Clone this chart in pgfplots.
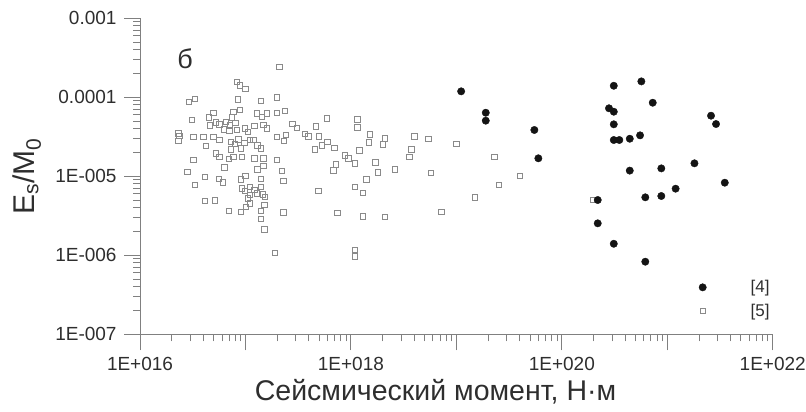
\documentclass[border=0pt]{standalone}
\usepackage{fontspec}
\setmainfont{Liberation Sans}
\usepackage{pgfplots}
\usepackage{pgfplotstable}
\pgfplotsset{compat=1.18}
\definecolor{axgray}{HTML}{808080}
\definecolor{sqgray}{HTML}{8A8A8A}
\definecolor{txtgray}{HTML}{2E2E2E}

\pgfplotstableread{
x y
2.90e16 8.72e-5
3.32e16 9.60e-5
3.09e16 5.16e-5
2.31e16 3.50e-5
2.36e16 3.24e-5
2.31e16 2.80e-5
3.20e16 3.17e-5
3.20e16 1.61e-5
2.81e16 1.14e-5
3.32e16 7.76e-6
3.98e16 3.17e-5
4.23e16 2.42e-5
4.96e16 3.17e-5
5.65e16 2.88e-5
4.96e16 6.38e-5
4.51e16 5.58e-5
4.61e16 4.42e-5
5.26e16 4.83e-5
5.65e16 4.55e-5
6.26e16 3.94e-5
7.03e16 3.75e-5
6.54e16 4.91e-5
7.14e16 4.46e-5
5.26e16 1.96e-5
5.65e16 1.77e-5
6.94e16 1.66e-5
6.30e16 1.30e-5
4.13e16 9.88e-6
5.61e16 9.24e-6
6.09e16 8.40e-6
4.13e16 4.91e-6
5.14e16 4.97e-6
6.98e16 3.64e-6
7.25e16 2.20e-5
8.26e16 1.56e-4
8.88e16 1.42e-4
9.97e16 1.27e-4
8.50e16 9.44e-5
7.67e16 6.57e-5
8.88e16 6.91e-5
7.41e16 5.58e-5
8.01e16 4.77e-5
8.26e16 3.86e-5
9.90e16 4.05e-5
8.55e16 2.94e-5
1.06e17 3.67e-5
7.25e16 2.74e-5
7.96e16 2.56e-5
9.75e16 2.66e-5
1.10e17 2.88e-5
9.02e16 2.26e-5
7.67e16 1.77e-5
9.21e16 1.77e-5
9.02e16 9.16e-6
9.97e16 1.01e-5
9.21e16 7.05e-6
9.90e16 6.52e-6
1.10e17 7.39e-6
1.10e17 5.80e-6
1.06e17 5.27e-6
9.02e16 3.53e-6
1.01e17 4.09e-6
1.10e17 4.55e-6
1.21e17 4.33e-5
1.28e17 6.27e-5
1.43e17 5.68e-5
1.59e17 6.27e-5
1.48e17 4.46e-5
1.59e17 4.05e-5
1.40e17 9.06e-5
1.30e17 2.47e-5
1.40e17 2.26e-5
1.21e17 1.69e-5
1.48e17 1.69e-5
1.48e17 1.35e-5
1.30e17 1.23e-5
1.40e17 9.24e-6
1.21e17 6.71e-6
1.28e17 6.09e-6
1.40e17 7.39e-6
1.46e17 5.92e-6
1.53e17 5.52e-6
1.51e17 4.33e-6
1.40e17 3.64e-6
1.40e17 2.88e-6
1.51e17 2.13e-6
1.19e17 2.88e-5
2.09e17 2.44e-4
1.99e17 1.00e-4
1.98e17 6.38e-5
2.37e17 6.71e-5
2.78e17 4.59e-5
3.06e17 4.09e-5
1.98e17 3.17e-5
2.32e17 2.80e-5
2.41e17 3.33e-5
1.98e17 1.61e-5
2.21e17 1.17e-5
2.29e17 8.80e-6
2.29e17 3.50e-6
1.91e17 1.08e-6
3.67e17 3.43e-5
3.95e17 3.19e-5
4.67e17 4.30e-5
5.90e17 5.42e-5
4.98e17 3.19e-5
4.57e17 2.20e-5
5.29e17 2.45e-5
5.97e17 2.74e-5
6.96e17 2.30e-5
8.79e17 1.83e-5
9.45e17 1.69e-5
1.09e18 1.46e-5
7.22e17 1.42e-5
6.81e17 1.19e-5
4.91e17 6.52e-6
7.43e17 3.45e-6
1.15e18 5.27e-5
1.15e18 4.17e-5
1.20e18 2.13e-5
1.09e18 7.32e-6
1.09e18 1.17e-6
1.09e18 9.66e-7
1.51e18 3.41e-5
1.49e18 2.70e-5
2.11e18 3.03e-5
2.00e18 2.54e-5
1.70e18 1.50e-5
1.81e18 1.12e-5
2.62e18 1.23e-5
1.40e18 9.16e-6
1.30e18 6.20e-6
1.30e18 3.10e-6
2.11e18 3.04e-6
3.99e18 3.21e-5
3.74e18 2.20e-5
3.58e18 1.77e-5
5.42e18 2.95e-5
5.75e18 1.11e-5
7.23e18 3.53e-6
1.00e19 2.55e-5
1.50e19 5.42e-6
2.30e19 1.75e-5
2.54e19 7.76e-6
4.02e19 1.01e-5
1.99e20 5.01e-6
}\sqdata

\pgfplotstableread{
x y
1.11e19 1.19e-4
1.90e19 6.38e-5
1.90e19 5.06e-5
5.49e19 3.86e-5
5.99e19 1.69e-5
3.11e20 1.40e-4
5.68e20 1.59e-4
7.28e20 8.54e-5
2.80e20 7.26e-5
3.11e20 6.57e-5
3.11e20 4.55e-5
3.11e20 2.88e-5
3.51e20 2.88e-5
4.41e20 2.99e-5
5.52e20 3.30e-5
2.60e21 5.85e-5
2.90e21 4.59e-5
4.41e20 1.18e-5
8.78e20 1.26e-5
1.81e21 1.46e-5
3.51e21 8.30e-6
1.20e21 6.97e-6
6.19e20 5.42e-6
8.78e20 5.63e-6
2.19e20 5.01e-6
2.19e20 2.54e-6
3.11e20 1.40e-6
6.19e20 8.30e-7
}\circdata

\begin{document}
\begin{tikzpicture}
\begin{axis}[
  scale only axis, width=632.7bp, height=316bp,
  xmode=log, ymode=log,
  xmin=1e16, xmax=1e22, ymin=1e-7, ymax=1e-3,
  axis x line=bottom, axis y line=left,
  axis line style={-, draw=axgray, line width=1bp},
  tick align=outside,
  major tick length=16bp, minor tick length=7bp,
  every tick/.style={draw=axgray, line width=1bp},
  xtick={1e16,1e17,1e18,1e19,1e20,1e21,1e22},
  xticklabels={1E+016,,1E+018,,1E+020,,1E+022},
  minor xtick={2e16,3e16,4e16,5e16,6e16,7e16,8e16,9e16,
    2e17,3e17,4e17,5e17,6e17,7e17,8e17,9e17,
    2e18,3e18,4e18,5e18,6e18,7e18,8e18,9e18,
    2e19,3e19,4e19,5e19,6e19,7e19,8e19,9e19,
    2e20,3e20,4e20,5e20,6e20,7e20,8e20,9e20,
    2e21,3e21,4e21,5e21,6e21,7e21,8e21,9e21},
  ytick={1e-7,1e-6,1e-5,1e-4,1e-3},
  yticklabels={1E-007,1E-006,1E-005,0.0001,0.001},
  minor ytick={2e-7,3e-7,4e-7,5e-7,6e-7,7e-7,8e-7,9e-7,
    2e-6,3e-6,4e-6,5e-6,6e-6,7e-6,8e-6,9e-6,
    2e-5,3e-5,4e-5,5e-5,6e-5,7e-5,8e-5,9e-5,
    2e-4,3e-4,4e-4,5e-4,6e-4,7e-4,8e-4,9e-4},
  tick label style={font=\fontsize{19bp}{21bp}\selectfont, text=txtgray},
  yticklabel style={xshift=-4bp},
  xticklabel style={yshift=-3bp},
  xlabel={Сейсмический момент, Н·м},
  xlabel style={font=\fontsize{28.5bp}{30bp}\selectfont, text=txtgray,
    at={(axis description cs:0.467,0)}, anchor=base, yshift=-66bp},
  ylabel={E\textsubscript{s}/M\textsubscript{0}},
  ylabel style={font=\fontsize{30bp}{32bp}\selectfont, text=txtgray,
    at={(axis description cs:-0.1786,0.5)}, anchor=center},
  legend style={draw=none, fill=none, at={(axis description cs:0.939,0.111)},
    anchor=center, font=\fontsize{17bp}{18bp}\selectfont, text=txtgray,
    row sep=6bp, inner sep=0pt},
  legend image code/.code={\draw[#1] plot coordinates {(0bp,0bp)}; \path[draw=none,fill=none] (-6bp,-6bp) rectangle (46bp,6bp);},
  reverse legend,
  clip=false,
]
\addplot[only marks, mark=square, mark size=2.7bp,
  mark options={draw=sqgray, line width=0.8bp, fill=none}] table {\sqdata};
\addlegendentry{[5]}
\addplot[only marks, mark=*, mark size=3.7bp,
  mark options={draw=black!92, fill=black!92}] table {\circdata};
\addlegendentry{[4]}
\node[font=\fontsize{27bp}{30bp}\selectfont, text=txtgray] at (rel axis cs:0.0711,0.871) {б};
\coordinate (O) at (rel axis cs:0,0);
\coordinate (T) at (rel axis cs:1,1);
\end{axis}
\pgfresetboundingbox
\path ([shift={(-140bp,-77.7bp)}]O) rectangle ([shift={(33.3bp,18.3bp)}]T);
\end{tikzpicture}
\end{document}
